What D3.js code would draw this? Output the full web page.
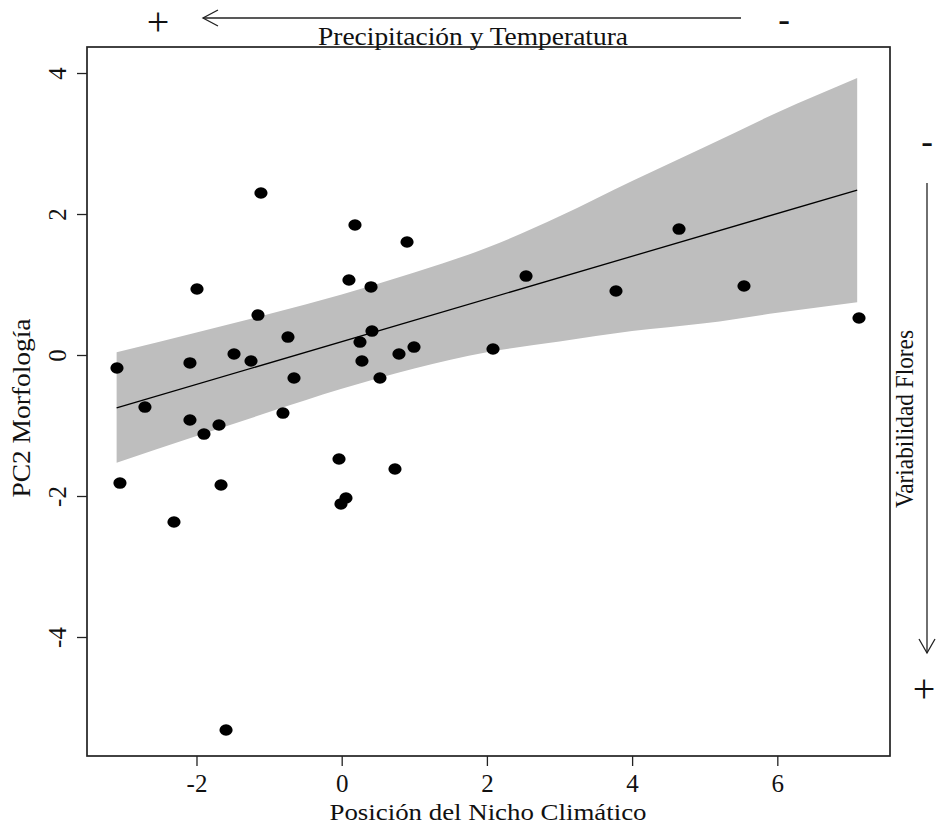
<!DOCTYPE html>
<html><head><meta charset="utf-8">
<script src="https://cdn.jsdelivr.net/npm/d3@7"></script>
<style>
body{margin:0;background:#fff}
</style>
</head><body>
<svg id="c" width="937" height="830"></svg>
<script>
// ---- data ----
const xVals=[-3.095,-3.054,-2.71,-2.31,-2.09,-2.09,-1.993,-1.897,-1.69,-1.662,-1.593,-1.483,-1.249,-1.153,-1.112,-0.809,-0.74,-0.657,-0.037,-0.01,0.059,0.10,0.183,0.252,0.279,0.404,0.417,0.527,0.734,0.789,0.90,0.996,2.084,2.539,3.778,4.646,5.541,7.125];
const yVals=[-0.184,-1.816,-0.738,-2.369,-0.113,-0.922,0.936,-1.121,-0.993,-1.844,-5.319,0.014,-0.085,0.567,2.298,-0.823,0.255,-0.326,-1.475,-2.113,-2.028,1.064,1.844,0.184,-0.085,0.965,0.34,-0.326,-1.617,0.014,1.603,0.113,0.085,1.12,0.908,1.787,0.979,0.525];
const bandX=[-3.1,-2,-1,0,1,2,3,4,5,6,7.1];
const bandUpper=[0.04,0.32,0.58,0.86,1.17,1.52,1.97,2.47,2.95,3.44,3.93];
const bandLower=[-1.53,-1.15,-0.81,-0.48,-0.19,0.04,0.19,0.34,0.45,0.60,0.75];
const lineX=[-3.1,7.1];
const lineY=[-0.75,2.34];
const xTicks=[-2,0,2,4,6];
const yTicks=[-4,-2,0,2,4];
const xLabel="Posición del Nicho Climático";
const yLabel="PC2 Morfología";
const topLabel="Precipitación y Temperatura";
const rightLabel="Variabilidad Flores";

// ---- layout ----
const FONT='"Liberation Serif","Times New Roman",Times,serif';
const L=87,R=890,T=47,B=756;
const svg=d3.select("#c");
const x=d3.scaleLinear().domain([-3.508,7.552]).range([L,R]);
const y=d3.scaleLinear().domain([-5.688,4.369]).range([B,T]);

// band
const band=bandX.map((d,i)=>({x:d,u:bandUpper[i],l:bandLower[i]}));
svg.append("path").datum(band)
  .attr("d",d3.area().curve(d3.curveMonotoneX).x(d=>x(d.x)).y0(d=>y(d.l)).y1(d=>y(d.u)))
  .attr("fill","#bebebe").attr("stroke","none");

// regression line
svg.append("path").datum(lineX.map((d,i)=>[d,lineY[i]]))
  .attr("d",d3.line().x(d=>x(d[0])).y(d=>y(d[1])))
  .attr("stroke","#000").attr("stroke-width",1.3).attr("fill","none");

// points
svg.append("g").selectAll("ellipse").data(xVals.map((d,i)=>[d,yVals[i]])).join("ellipse")
  .attr("cx",d=>x(d[0])).attr("cy",d=>y(d[1])).attr("rx",6.6).attr("ry",5.8).attr("fill","#000");

// box
svg.append("rect").attr("x",L).attr("y",T).attr("width",R-L).attr("height",B-T)
  .attr("fill","none").attr("stroke","#222").attr("stroke-width",1.7);

// x axis
const gx=svg.append("g").attr("transform",`translate(0,${B})`)
  .call(d3.axisBottom(x).tickValues(xTicks).tickSize(10).tickFormat(d=>String(d)));
gx.select(".domain").remove();
gx.selectAll(".tick line").attr("stroke","#222").attr("stroke-width",1.3);
gx.selectAll(".tick text").attr("y",36).attr("dy",0)
  .style("font-family",FONT).style("font-size","25px").style("fill","#111");

// y axis
const gy=svg.append("g").attr("transform",`translate(${L},0)`)
  .call(d3.axisLeft(y).tickValues(yTicks).tickSize(10).tickFormat(d=>String(d)));
gy.select(".domain").remove();
gy.selectAll(".tick line").attr("stroke","#222").attr("stroke-width",1.3);
gy.selectAll(".tick text").attr("x",0).attr("y",-21).attr("dy",0)
  .attr("text-anchor","middle").attr("transform","rotate(-90)")
  .style("font-family",FONT).style("font-size","25px").style("fill","#111");

function label(sel,size,len,txt){
  return sel.attr("text-anchor","middle").attr("textLength",len).attr("lengthAdjust","spacingAndGlyphs")
    .style("font-family",FONT).style("font-size",size+"px").style("fill","#111").text(txt);
}
// axis labels
label(svg.append("text").attr("x",488).attr("y",820),24,317,xLabel);
label(svg.append("text").attr("transform","translate(30,408) rotate(-90)"),26,179,yLabel);
label(svg.append("text").attr("x",473).attr("y",45),26,310,topLabel);
label(svg.append("text").attr("transform","translate(913,419) rotate(-90)"),26,178,rightLabel);

function sym(xx,yy,size,t){
  svg.append("text").attr("x",xx).attr("y",yy).attr("text-anchor","middle")
    .style("font-family",FONT).style("font-size",size+"px").style("fill","#111").text(t);
}
// top arrow
const ay=18;
svg.append("line").attr("x1",203).attr("y1",ay).attr("x2",741).attr("y2",ay).attr("stroke","#222").attr("stroke-width",1.3);
svg.append("path").attr("d",`M${203+15},${ay-8}L203,${ay}L${203+15},${ay+8}`).attr("fill","none").attr("stroke","#222").attr("stroke-width",1.3);
sym(158,35,40,"+");
sym(784,31,35,"-");

// right arrow
const ax=927;
svg.append("line").attr("x1",ax).attr("y1",183).attr("x2",ax).attr("y2",653).attr("stroke","#222").attr("stroke-width",1.3);
svg.append("path").attr("d",`M${ax-8},${653-14}L${ax},653L${ax+8},${653-14}`).attr("fill","none").attr("stroke","#222").attr("stroke-width",1.3);
sym(ax,153,35,"-");
sym(924,702,40,"+");
</script>
</body></html>
